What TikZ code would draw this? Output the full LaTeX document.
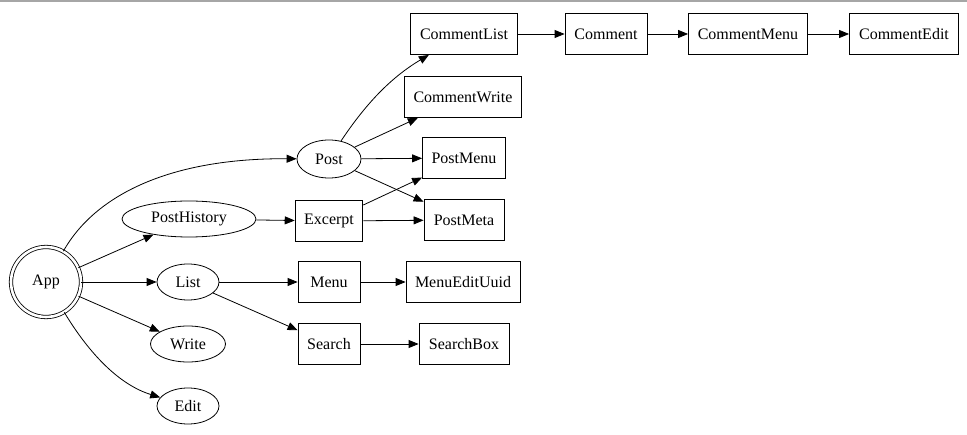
\documentclass[tikz,border=0pt]{standalone}
\usepackage{fontspec}
\setmainfont{Liberation Serif}
\usetikzlibrary{arrows.meta,shapes.geometric}
\begin{document}
\begin{tikzpicture}[x=1pt,y=-1pt,
  every node/.style={font=\fontsize{16}{19}\selectfont},
  box/.style={draw,line width=0.8pt,rectangle,minimum height=41pt,minimum width=62pt,inner xsep=9pt},
  oval/.style={draw,line width=0.8pt,ellipse,inner sep=0pt,minimum height=36pt},
  edge/.style={draw,line width=0.8pt,-{Triangle[length=10pt,width=8pt]}}]
\useasboundingbox (0,0) rectangle (967,435);
\draw[gray!70,line width=1.5pt] (0,1) -- (967,1);
% nodes
\node[draw,circle,line width=0.8pt,double,double distance=2.6pt,minimum size=70pt,inner sep=0pt] (app) at (46,282) {App};
\node[oval,minimum width=134pt] (posthistory) at (189,219) {PostHistory};
\node[oval,minimum width=62pt] (list) at (188,282) {List};
\node[oval,minimum width=75pt] (write) at (188,344) {Write};
\node[oval,minimum width=62pt] (edit) at (188,406) {Edit};
\node[oval,minimum width=64pt,minimum height=38pt] (post) at (329,159) {Post};
\node[box,minimum width=67pt] (excerpt) at (329,221) {Excerpt};
\node[box] (menu) at (329,282) {Menu};
\node[box] (search) at (329,344) {Search};
\node[box,minimum width=107pt] (commentlist) at (464,34) {CommentList};
\node[box,minimum width=117pt] (commentwrite) at (463,97) {CommentWrite};
\node[box,minimum width=83pt] (postmenu) at (464,158) {PostMenu};
\node[box,minimum width=80pt] (postmeta) at (464,220) {PostMeta};
\node[box,minimum width=114pt] (menuedituuid) at (463,282) {MenuEditUuid};
\node[box,minimum width=90pt] (searchbox) at (464,344) {SearchBox};
\node[box,minimum width=82pt] (comment) at (606,34) {Comment};
\node[box,minimum width=119pt] (commentmenu) at (748,34) {CommentMenu};
\node[box,minimum width=109pt] (commentedit) at (904,34) {CommentEdit};
% edges
\path[edge] (app) .. controls (95,195) and (170,158) .. (post);
\path[edge] (app) -- (posthistory);
\path[edge] (app) -- (list);
\path[edge] (app) -- (write);
\path[edge] (app) .. controls (90,355) and (120,385) .. (edit);
\path[edge] (posthistory) -- (excerpt);
\path[edge] (list) -- (menu);
\path[edge] (list) -- (search);
\path[edge] (post) .. controls (365,105) and (390,78) .. (commentlist);
\path[edge] (post) -- (commentwrite);
\path[edge] (post) -- (postmenu);
\path[edge] (post) -- (postmeta);
\path[edge] (excerpt) -- (postmenu);
\path[edge] (excerpt) -- (postmeta);
\path[edge] (menu) -- (menuedituuid);
\path[edge] (search) -- (searchbox);
\path[edge] (commentlist) -- (comment);
\path[edge] (comment) -- (commentmenu);
\path[edge] (commentmenu) -- (commentedit);
\end{tikzpicture}
\end{document}
